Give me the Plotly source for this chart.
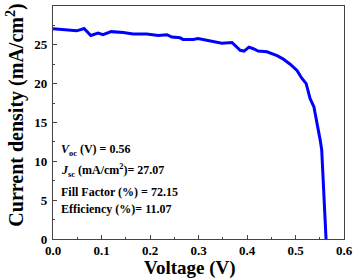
import plotly.graph_objects as go

voltage = [0.0, 0.049, 0.064, 0.078, 0.093, 0.103, 0.12, 0.145, 0.165, 0.193, 0.217, 0.235,
           0.245, 0.262, 0.268, 0.289, 0.299, 0.327, 0.348, 0.369, 0.386, 0.394, 0.404, 0.413,
           0.423, 0.441, 0.462, 0.474, 0.489, 0.503, 0.513, 0.522, 0.530, 0.538, 0.546, 0.551,
           0.554, 0.563]
current = [27.07, 26.8, 27.1, 26.2, 26.5, 26.3, 26.7, 26.6, 26.4, 26.4, 26.2, 26.3,
           26.0, 25.9, 25.7, 25.7, 25.8, 25.5, 25.2, 25.3, 24.3, 24.2, 24.7, 24.5,
           24.2, 24.1, 23.6, 23.2, 22.5, 21.7, 20.7, 20.0, 18.1, 17.0, 14.5, 12.7,
           11.5, 0.0]

x_ticks = [0.0, 0.1, 0.2, 0.3, 0.4, 0.5, 0.6]
x_tick_labels = ["0.0", "0.1", "0.2", "0.3", "0.4", "0.5", "0.6"]
y_ticks = [0, 5, 10, 15, 20, 25, 30]

params = [
    "<b><i>V</i><sub>oc</sub> (V) = 0.56</b>",
    "<b><i>J</i><sub>sc</sub> (mA/cm<sup>2</sup>)= 27.07</b>",
    "<b>Fill Factor (%) = 72.15</b>",
    "<b>Efficiency (%)= 11.07</b>",
]
param_y = [11.5, 8.8, 6.0, 3.8]

FONT = "Liberation Serif"

fig = go.Figure()
fig.add_trace(go.Scatter(x=voltage, y=current, mode="lines",
                         line=dict(color="#0000ff", width=3), showlegend=False))

for txt, yy in zip(params, param_y):
    fig.add_annotation(x=0.012, y=yy, xref="x", yref="y", text=txt, showarrow=False,
                       xanchor="left", yanchor="middle",
                       font=dict(family=FONT, size=12, color="black"))

fig.add_annotation(x=0.47, y=-0.126, xref="paper", yref="paper",
                   text="<b>Voltage (V)</b>", showarrow=False,
                   xanchor="center", yanchor="middle",
                   font=dict(family=FONT, size=19, color="black"))
fig.add_annotation(x=-0.13, y=0.53, xref="paper", yref="paper",
                   text="<b>Current density (mA/cm<sup>2</sup>)</b>", showarrow=False,
                   textangle=-90, xanchor="center", yanchor="middle",
                   font=dict(family=FONT, size=20, color="black"))

axis_common = dict(showline=True, linecolor="#444", linewidth=1.2, mirror=True,
                   ticks="inside", ticklen=4, tickcolor="#444", showgrid=False, zeroline=False,
                   automargin=False,
                   tickfont=dict(family=FONT, size=13, color="black", weight="bold"))

fig.update_xaxes(range=[0, 0.6], tickvals=x_ticks, ticktext=x_tick_labels,
                 minor=dict(dtick=0.05, ticks="inside", ticklen=2, tickcolor="#444"),
                 ticklabelstandoff=-1,
                 **axis_common)
fig.update_yaxes(range=[0, 30], tickvals=y_ticks,
                 minor=dict(dtick=2.5, ticks="inside", ticklen=2, tickcolor="#444"),
                 ticklabelstandoff=2,
                 **axis_common)

fig.update_layout(width=358, height=280, margin=dict(l=53, r=14, t=6, b=41),
                  plot_bgcolor="white", paper_bgcolor="white")

fig.write_html("out.html", config={"displayModeBar": False},
               post_script="document.body.style.margin='0';document.body.style.overflow='hidden';")
